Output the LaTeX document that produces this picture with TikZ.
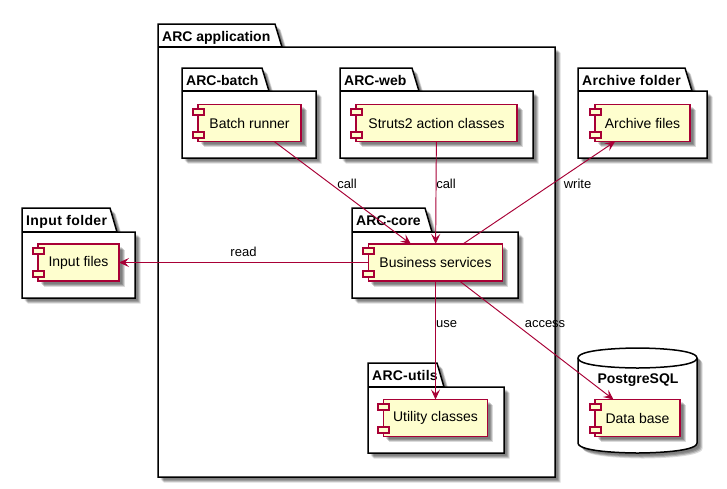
\documentclass[tikz,border=0pt]{standalone}
\usepackage{fontspec}
\setmainfont{Liberation Sans}
\usetikzlibrary{arrows.meta,shadows}
\definecolor{umlred}{HTML}{A80036}
\definecolor{umlfill}{HTML}{FEFECE}
\tikzset{
  softshadow/.style={
    general shadow={fill=black,opacity=.12,shadow xshift=2.5pt,shadow yshift=-2.5pt},
    general shadow={fill=black,opacity=.18,shadow xshift=3.5pt,shadow yshift=-3.5pt},
    general shadow={fill=black,opacity=.18,shadow xshift=4.5pt,shadow yshift=-4.5pt},
    general shadow={fill=black,opacity=.14,shadow xshift=5.5pt,shadow yshift=-5.5pt}},
  pkgshape/.style={draw=black,line width=1.5pt,fill=white,line join=miter,softshadow},
  pkgline/.style={draw=black,line width=1.5pt},
  pkglabel/.style={anchor=base west,inner sep=0pt,font=\fontsize{14}{16}\selectfont\bfseries},
  compbody/.style={draw=umlred,line width=1.5pt,fill=umlfill,inner sep=0pt,outer sep=0pt,softshadow,font=\fontsize{14}{16}\selectfont},
  compport/.style={draw=umlred,line width=1.5pt,fill=umlfill},
  link/.style={draw=umlred,line width=.95pt,-{Stealth[length=10pt,width=9pt,inset=4pt]}},
  linklabel/.style={inner sep=0pt,font=\fontsize{13}{15}\selectfont,text=black}
}
% name, x1,y1, tab top right, tab bottom right, tab y, x2,y2, label
\newcommand{\umlpkg}[9]{%
  \path[pkgshape] (#2,#3) -- (#4,#3) -- (#5,#6) -- (#7,#6) -- (#7,#8) -- (#2,#8) -- cycle;
  \path[pkgline] (#2,#6) -- (#5,#6);
  \node[pkglabel] (#1) at (#2+4,#3+17) {#9};
}
% name, x1,y1,x2,y2, text
\newcommand{\umlcomp}[6]{%
  \node[compbody,minimum width={(#4-#2)*1pt},minimum height={(#5-#3)*1pt}] (#1) at ({(#2+#4)/2},{(#3+#5)/2}) {#6};
  \path[compport] ({floor(#2-5)},{floor(#3+4.6)}) rectangle ({floor(#2-5)+11},{floor(#3+4.6)+6});
  \path[compport] ({floor(#2-5)},{floor(#5-9.5)}) rectangle ({floor(#2-5)+11},{floor(#5-9.5)+6});
}
\begin{document}
\begin{tikzpicture}[x=1pt,y=-1pt]
\useasboundingbox (0,0) rectangle (727,488);
\fill[white] (0,0) rectangle (727,488);

\umlpkg{app}{158}{24}{275}{282}{47}{555}{477}{ARC application}
\umlpkg{batch}{182}{68}{262}{269}{91}{316}{158}{ARC-batch}
\umlpkg{web}{340}{68}{412}{419}{91}{533}{158}{ARC-web}
\umlpkg{corepkg}{352}{208}{425}{432}{232}{518}{298}{ARC-core}
\umlpkg{utilspkg}{368}{363}{437}{444}{387}{504}{453}{\addfontfeature{LetterSpace=1.5}ARC-utils}
\umlpkg{inputpkg}{22}{208}{110}{117}{232}{135}{298}{\addfontfeature{LetterSpace=2.8}Input folder}
\umlpkg{archivepkg}{578}{68}{685}{692}{91}{707}{158}{\addfontfeature{LetterSpace=2.6}Archive folder}

\path[pkgshape] (578,358) .. controls (578,348) and (637.5,348) .. (637.5,348)
  .. controls (637.5,348) and (697,348) .. (697,358)
  -- (697,443) .. controls (697,453) and (637.5,453) .. (637.5,453)
  .. controls (637.5,453) and (578,453) .. (578,443) -- cycle;
\path[pkgline] (578,358) .. controls (578,368) and (637.5,368) .. (637.5,368)
  .. controls (637.5,368) and (697,368) .. (697,358);
\node[anchor=base,inner sep=0pt,font=\fontsize{14}{16}\selectfont\bfseries] (pg) at (638,383) {PostgreSQL};

\umlcomp{runner}{198}{104.5}{301}{141.5}{Batch runner}
\umlcomp{struts}{356}{104.5}{517}{141.5}{Struts2 action classes}
\umlcomp{business}{368.5}{244}{502.5}{281}{Business services}
\umlcomp{utility}{383.5}{399.5}{487.5}{436.5}{Utility classes}
\umlcomp{inputf}{38}{244}{119}{281}{Input files}
\umlcomp{archivef}{595}{104.5}{690}{141.5}{Archive files}
\umlcomp{database}{595}{399.5}{680}{436.5}{Data base}

\draw[link] (runner) -- (business);
\draw[link] (struts) -- (business);
\draw[link] (business) -- (utility);
\draw[link] (business) -- (database);
\draw[link] (business) -- (archivef);
\draw[link] (business) -- (inputf);

\node[linklabel] (l1) at (347,184) {call};
\node[linklabel] (l2) at (446,184) {call};
\node[linklabel] (l3) at (577.5,184) {write};
\node[linklabel] (l4) at (243.5,252) {read};
\node[linklabel] (l5) at (446.5,324) {use};
\node[linklabel] (l6) at (545,324) {access};
\end{tikzpicture}
\end{document}
